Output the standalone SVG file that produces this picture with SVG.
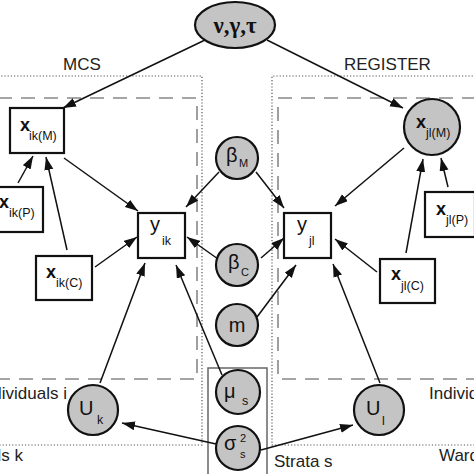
<svg xmlns="http://www.w3.org/2000/svg" width="474" height="474" viewBox="0 0 474 474">
<defs>
<style>
.dot{fill:none;stroke:#555;stroke-width:1.2;stroke-dasharray:1.2 2}
.dash{fill:none;stroke:#888;stroke-width:1.6;stroke-dasharray:14 9}
.box{fill:#fff;stroke:#111;stroke-width:2.2}
.circ{fill:#c4c4c4;stroke:#111;stroke-width:2.2}
.lbl{font-family:"Liberation Sans",Arial,sans-serif;font-size:17px;fill:#222}
.big{font-family:"Liberation Sans",Arial,sans-serif;font-size:20px;fill:#111}
.xb{font-family:"Liberation Sans",Arial,sans-serif;font-size:18px;font-weight:bold;fill:#111}
.sub{font-family:"Liberation Sans",Arial,sans-serif;font-size:12.5px;fill:#111}
.ssub{font-family:"Liberation Sans",Arial,sans-serif;font-size:11px;fill:#111}
.edge{stroke:#111;stroke-width:1.5;fill:none;marker-end:url(#ah)}
</style>
<marker id="ah" markerUnits="userSpaceOnUse" markerWidth="14" markerHeight="10" refX="13" refY="4.5" orient="auto">
<path d="M0,0 L13,4.5 L0,9 z" fill="#111"/>
</marker>
</defs>
<rect width="474" height="474" fill="#fff"/>

<g id="plates">
<polyline class="dot" points="-2,76 202,76 202,445 -2,445"/>
<polyline class="dot" points="476,76 272,76 272,445 476,445"/>
<polyline class="dash" points="-2,98 197,98 197,379 -2,379"/>
<polyline class="dash" points="476,98 278,98 278,379 476,379"/>
<rect x="208" y="368" width="59" height="108" fill="none" stroke="#666" stroke-width="1.5"/>
<text class="lbl" x="63" y="70" font-size="18">MCS</text>
<text class="lbl" x="344" y="70" font-size="18">REGISTER</text>
<text class="lbl" x="67" y="399" text-anchor="end" font-size="16">Individuals i</text>
<text class="lbl" x="23" y="461" text-anchor="end" font-size="16">Wards k</text>
<text class="lbl" x="429" y="399" font-size="16">Individuals l</text>
<text class="lbl" x="439" y="461" font-size="16">Wards l</text>
<text class="lbl" x="274" y="467" font-size="16">Strata s</text>
</g>

<g id="connectors">
<line class="edge" x1="205" y1="40" x2="63" y2="108"/>
<line class="edge" x1="267" y1="40" x2="403" y2="108"/>
<line class="edge" x1="64" y1="158" x2="138" y2="211"/>
<line class="edge" x1="18" y1="183" x2="33" y2="156"/>
<line class="edge" x1="67" y1="250" x2="46" y2="157"/>
<line class="edge" x1="95" y1="267" x2="137" y2="237"/>
<line class="edge" x1="100" y1="383" x2="145" y2="263"/>
<line class="edge" x1="222" y1="375" x2="176" y2="265"/>
<line class="edge" x1="219" y1="172" x2="186" y2="207"/>
<line class="edge" x1="218" y1="259" x2="187" y2="237"/>
<line class="edge" x1="256" y1="172" x2="284" y2="208"/>
<line class="edge" x1="261" y1="258" x2="284" y2="238"/>
<line class="edge" x1="257" y1="317" x2="296" y2="265"/>
<line class="edge" x1="404" y1="148" x2="335" y2="206"/>
<line class="edge" x1="406" y1="253" x2="423" y2="159"/>
<line class="edge" x1="448" y1="187" x2="441" y2="158"/>
<line class="edge" x1="377" y1="272" x2="335" y2="239"/>
<line class="edge" x1="380" y1="383" x2="333" y2="264"/>
<line class="edge" x1="216" y1="444" x2="122" y2="423"/>
<line class="edge" x1="261" y1="450" x2="353" y2="425"/>
</g>

<g id="hyper">
<ellipse class="circ" cx="235" cy="25" rx="40" ry="23"/>
<text x="235" y="33" text-anchor="middle" font-family="'Liberation Serif','Times New Roman',serif" font-size="23" font-weight="bold" fill="#111">ν,γ,τ</text>
</g>

<g id="x_ik_M">
<rect class="box" x="10" y="108" width="54" height="45"/>
<text class="xb" x="20" y="131">x</text><text class="sub" x="29" y="140">ik(M)</text>
</g>
<g id="x_ik_P">
<rect class="box" x="-4" y="187" width="47" height="45"/>
<text class="xb" x="-1" y="208">x</text><text class="sub" x="9" y="217">ik(P)</text>
</g>
<g id="x_ik_C">
<rect class="box" x="36" y="256" width="56" height="44"/>
<text class="xb" x="46" y="278">x</text><text class="sub" x="56" y="287">ik(C)</text>
</g>
<g id="y_ik">
<rect class="box" x="138" y="213" width="47" height="45"/>
<text class="big" x="150" y="231" font-size="22">y</text><text class="sub" x="162" y="245" font-size="13">ik</text>
</g>
<g id="y_jl">
<rect class="box" x="284" y="213" width="47" height="45"/>
<text class="big" x="297" y="231" font-size="22">y</text><text class="sub" x="309" y="245" font-size="13">jl</text>
</g>
<g id="x_jl_M">
<circle class="circ" cx="432" cy="127" r="28"/>
<text class="xb" x="416" y="128">x</text><text class="sub" x="426" y="137">jl(M)</text>
</g>
<g id="x_jl_P">
<rect class="box" x="425" y="192" width="50" height="45"/>
<text class="xb" x="436" y="215">x</text><text class="sub" x="446" y="224">jl(P)</text>
</g>
<g id="x_jl_C">
<rect class="box" x="380" y="259" width="55" height="44"/>
<text class="xb" x="391" y="280">x</text><text class="sub" x="401" y="290">jl(C)</text>
</g>
<g id="beta_M">
<circle class="circ" cx="237" cy="158" r="21"/>
<text class="big" x="226" y="162">β</text><text class="ssub" x="239" y="167">M</text>
</g>
<g id="beta_C">
<circle class="circ" cx="237" cy="265" r="21"/>
<text class="big" x="228" y="269">β</text><text class="ssub" x="241" y="276">C</text>
</g>
<g id="m">
<circle class="circ" cx="237" cy="325" r="21"/>
<text class="big" x="237" y="332" text-anchor="middle" font-size="22">m</text>
</g>
<g id="mu_s">
<circle class="circ" cx="238" cy="392" r="22"/>
<text class="big" x="224" y="398">μ</text><text class="sub" x="242" y="405">s</text>
</g>
<g id="sigma_s">
<circle class="circ" cx="238" cy="448" r="22"/>
<text class="big" x="224" y="450">σ</text><text class="ssub" x="240" y="442">2</text><text class="ssub" x="240" y="458">s</text>
</g>
<g id="U_k">
<circle class="circ" cx="93" cy="410" r="25"/>
<text class="big" x="79" y="415" font-size="22">U</text><text class="sub" x="97" y="424" font-size="13">k</text>
</g>
<g id="U_l">
<circle class="circ" cx="379" cy="410" r="25"/>
<text class="big" x="366" y="415" font-size="22">U</text><text class="sub" x="382" y="425" font-size="13">l</text>
</g>
</svg>
